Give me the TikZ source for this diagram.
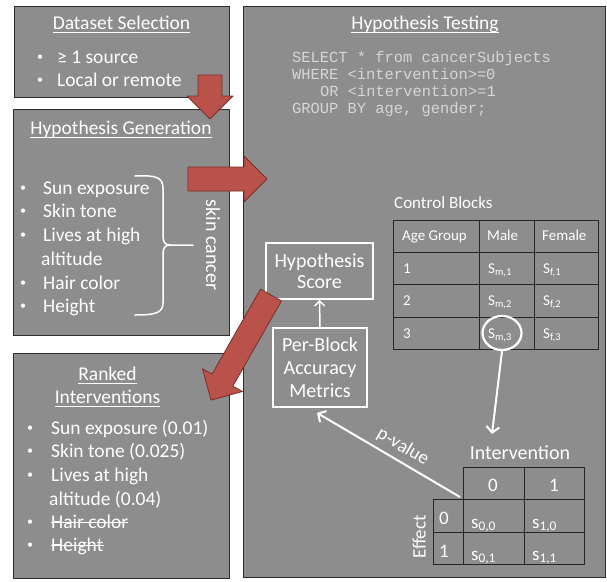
\documentclass[tikz,border=0pt]{standalone}
\usepackage{fontspec}
\setmainfont{Carlito}
\newfontfamily\codefont{Liberation Mono}
\usetikzlibrary{arrows.meta,shapes.geometric}
\definecolor{boxgray}{RGB}{141,141,141}
\definecolor{boxedge}{RGB}{45,45,45}
\definecolor{arrowred}{RGB}{184,82,75}
\definecolor{arrowedge}{RGB}{125,45,40}
\definecolor{codegray}{RGB}{214,214,214}
\newcommand{\blockarrow}[4]{%
  \begin{scope}[shift={(#1,#2)},rotate=#3]
    \filldraw[fill=arrowred,draw=arrowedge,line width=0.8pt,line join=round]
      (0,-12) -- ({#4-23},-12) -- ({#4-23},-23) -- (#4,0) -- ({#4-23},23) -- ({#4-23},12) -- (0,12) -- cycle;
  \end{scope}}
\begin{document}
\begin{tikzpicture}[x=1pt,y=-1pt,
  panel/.style={fill=boxgray,draw=boxedge,line width=1pt},
  txt/.style={text=white,font=\fontsize{19.5}{23}\selectfont,inner sep=0pt,anchor=base west},
  bul/.style={text=white,font=\fontsize{12}{14}\selectfont,inner sep=0pt,anchor=base west},
  ttl/.style={text=white,font=\fontsize{19.5}{23}\selectfont,inner sep=0pt,anchor=base},
  code/.style={text=codegray,font=\codefont\fontsize{15.4}{17}\selectfont,inner sep=0pt,anchor=base west},
  ttxt/.style={text=white,font=\fontsize{15}{18}\selectfont,inner sep=0pt,anchor=base west},
  itxt/.style={text=white,font=\fontsize{19}{22}\selectfont,inner sep=0pt,anchor=base},
  wbox/.style={draw=white,line width=1.8pt,text=white,inner sep=0pt,align=center},
  tline/.style={draw=black!85,line width=1pt},
  uline/.style={draw=white,line width=1pt},
  warrow/.style={draw=white,line width=2pt,-{Straight Barb[length=6pt,width=13pt]}}
]
\useasboundingbox (0,0) rectangle (607,581);
\fill[white] (0,0) rectangle (607,581);

% panels
\draw[panel] (14,6) rectangle (229,97);
\draw[panel] (13,109) rectangle (229,335);
\draw[panel] (13,353) rectangle (229,578);
\draw[panel] (243,6) rectangle (605,577);

% Dataset Selection
\node[ttl] (dst) at (121.5,29) {Dataset Selection};
\draw[uline] ([yshift=-3pt]dst.base west) -- ([yshift=-3pt]dst.base east);
\node[bul] (dsb1) at (37,60) {•};
\node[bul] (dsb2) at (37,83) {•};
\node[txt] (ds1) at (57,63) {≥ 1 source};
\node[txt] (ds2) at (57,86) {Local or remote};

% Hypothesis Generation
\node[ttl] (hgt) at (121,134) {Hypothesis Generation};
\draw[uline] ([yshift=-3pt]hgt.base west) -- ([yshift=-3pt]hgt.base east);
\foreach \y/\t [count=\i] in {194/Sun exposure,217/Skin tone,241/Lives at high,289/Hair color,312/Height}{
  \node[bul] (hgb\i) at (20,\y-3) {•};
  \node[txt] (hg\i) at (43,\y) {\t};
}
\node[txt] (hgalt) at (41,265) {altitude};
\draw[white,line width=1.5pt,line cap=round]
  (135,176) .. controls (155,175) and (163,177) .. (163,188) -- (163,236)
  .. controls (163,242) and (165,245) .. (170,245) -- (193,245);
\draw[white,line width=1.5pt,line cap=round]
  (170,245) .. controls (165,245) and (163,248) .. (163,254) -- (163,303)
  .. controls (163,313) and (155,315) .. (135,315);
\node[text=white,font=\fontsize{20}{24}\selectfont,inner sep=0pt,rotate=-90] (skc) at (213,245) {skin cancer};

% Ranked Interventions
\node[ttl] (rit1) at (107.5,380) {Ranked};
\draw[uline] ([yshift=-3pt]rit1.base west) -- ([yshift=-3pt]rit1.base east);
\node[ttl] (rit2) at (107.5,403) {Interventions};
\draw[uline] ([yshift=-3pt]rit2.base west) -- ([yshift=-3pt]rit2.base east);
\foreach \y/\t [count=\i] in {434/Sun exposure (0.01),457/Skin tone (0.025),481/Lives at high}{
  \node[bul] (rib\i) at (27,\y-3) {•};
  \node[txt] (ri\i) at (51,\y) {\t};
}
\node[txt] (rialt) at (49,505) {altitude (0.04)};
\node[bul] (rib4) at (27,525) {•};
\node[txt] (ri4) at (51,528) {Hair color};
\draw[uline] ([yshift=6pt]ri4.base west) -- ([yshift=6pt]ri4.base east);
\node[bul] (rib5) at (27,548) {•};
\node[txt] (ri5) at (51,551) {Height};
\draw[uline] ([yshift=6pt]ri5.base west) -- ([yshift=6pt]ri5.base east);

% Hypothesis Testing
\node[ttl] (htt) at (425,29) {Hypothesis Testing};
\draw[uline] ([yshift=-3pt]htt.base west) -- ([yshift=-3pt]htt.base east);
\node[code] (sq1) at (292,62) {SELECT * from cancerSubjects};
\node[code] (sq2) at (292,79) {WHERE <intervention>=0};
\node[code] (sq3) at (320,96) {OR <intervention>=1};
\node[code] (sq4) at (292,113) {GROUP BY age, gender;};

% Control blocks table
\node[text=white,font=\fontsize{17}{20}\selectfont,inner sep=0pt,anchor=base west] (cbl) at (394,208) {Control Blocks};
\draw[tline] (393,220) rectangle (598,349);
\foreach \y in {252,284,317} \draw[tline] (393,\y) -- (598,\y);
\foreach \x in {479,534} \draw[tline] (\x,220) -- (\x,349);
\node[ttxt] (cah) at (402,240) {Age Group};
\node[ttxt] (cmh) at (487,240) {Male};
\node[ttxt] (cfh) at (542,240) {Female};
\foreach \y/\n in {273.5/1,305.5/2,338/3}{
  \node[ttxt] (cr\n) at (403,\y) {\n};
  \node[ttxt] (cm\n) at (488,\y) {S\textsubscript{m,\n}};
  \node[ttxt] (cf\n) at (543,\y) {S\textsubscript{f,\n}};
}
\node[draw=white,line width=2.2pt,ellipse,minimum width=39pt,minimum height=34pt,inner sep=0pt] (circ) at (502,333) {};

% Score boxes
\node[wbox,minimum width=107pt,minimum height=56pt,font=\fontsize{20}{21}\selectfont] (score) at (319.5,271) {Hypothesis\\Score};
\node[wbox,minimum width=94pt,minimum height=79pt,font=\fontsize{20}{23}\selectfont] (pb) at (320,367.5) {Per-Block\\Accuracy\\Metrics};
\draw[white,line width=1.5pt,-{Straight Barb[length=5pt,width=10pt]}] (pb.north) -- (score.south);

% Intervention table
\node[text=white,font=\fontsize{20}{24}\selectfont,inner sep=0pt] (intl) at (520,453) {Intervention};
\draw[tline] (463,467) rectangle (584,564);
\draw[tline] (433,499) rectangle (463,564);
\draw[tline] (433,532) -- (584,532);
\draw[tline] (463,499) -- (584,499);
\draw[tline] (524,467) -- (524,564);
\coordinate (c00) at (463,499);
\coordinate (itop) at (492,434);
\node[itxt] (ih0) at (493,491) {0};
\node[itxt] (ih1) at (554,491) {1};
\node[itxt] (ie0) at (444,524) {0};
\node[itxt] (ie1) at (444,557) {1};
\node[itxt,anchor=base west] (s00) at (471,528) {s\textsubscript{0,0}};
\node[itxt,anchor=base west] (s10) at (532,528) {s\textsubscript{1,0}};
\node[itxt,anchor=base west] (s01) at (471,560) {s\textsubscript{0,1}};
\node[itxt,anchor=base west] (s11) at (532,560) {s\textsubscript{1,1}};
\node[text=white,font=\fontsize{19}{22}\selectfont,inner sep=0pt,rotate=90] (eff) at (419,537) {Effect};

% white connectors
\draw[warrow] (circ.south) -- (itop);
\draw[warrow] ([shift={(-3,-2)}]c00) -- ([shift={(-3,5)}]pb.south)
  node[pos=0.45,sloped,above=5pt,text=white,font=\fontsize{19}{22}\selectfont,inner sep=0pt] {p-value};

% red block arrows
\blockarrow{210}{75}{-90}{44}
\blockarrow{188}{179}{0}{79}
\blockarrow{271}{295}{-119.7}{121}
\end{tikzpicture}
\end{document}
